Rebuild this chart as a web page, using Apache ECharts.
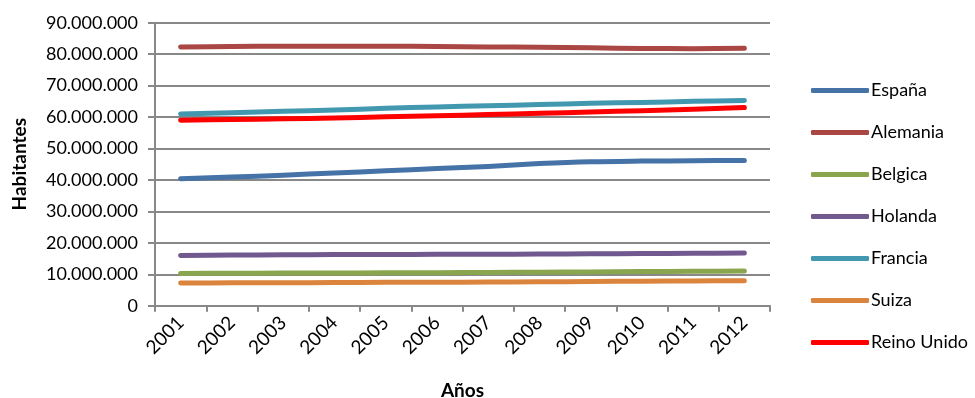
<!DOCTYPE html>
<html>
<head>
<meta charset="utf-8">
<script src="https://cdn.jsdelivr.net/npm/echarts@6/dist/echarts.min.js"></script>
<style>
  html, body { margin: 0; padding: 0; background: #fff; }
  #chart { width: 975px; height: 398px; }
</style>
</head>
<body>
<div id="chart"></div>
<script>
// Población por país, 2001-2012 (habitantes)
const years = ['2001','2002','2003','2004','2005','2006','2007','2008','2009','2010','2011','2012'];

const espana   = [40400000, 40900000, 41500000, 42200000, 42900000, 43600000, 44300000, 45200000, 45800000, 46000000, 46100000, 46200000];
const alemania = [82260000, 82440000, 82540000, 82530000, 82500000, 82440000, 82310000, 82220000, 82000000, 81800000, 81750000, 81840000];
const belgica  = [10260000, 10310000, 10360000, 10400000, 10450000, 10510000, 10580000, 10670000, 10750000, 10840000, 10950000, 11050000];
const holanda  = [15990000, 16110000, 16190000, 16260000, 16310000, 16330000, 16360000, 16410000, 16490000, 16570000, 16660000, 16730000];
const francia  = [61000000, 61400000, 61800000, 62250000, 62770000, 63230000, 63600000, 63960000, 64350000, 64660000, 64980000, 65290000];
const suiza    = [7200000, 7260000, 7310000, 7360000, 7420000, 7460000, 7510000, 7590000, 7700000, 7790000, 7870000, 7950000];
const reino    = [58990000, 59210000, 59440000, 59700000, 60060000, 60410000, 60780000, 61190000, 61600000, 62030000, 62500000, 63020000];

const yTicks = { min: 0, max: 90000000, interval: 10000000 };

const seriesDefs = [
  { name: 'España',      data: espana,   color: '#4572A7' },
  { name: 'Alemania',    data: alemania, color: '#AA4643' },
  { name: 'Belgica',     data: belgica,  color: '#89A54E' },
  { name: 'Holanda',     data: holanda,  color: '#71588F' },
  { name: 'Francia',     data: francia,  color: '#4198AF' },
  { name: 'Suiza',       data: suiza,    color: '#DB843D' },
  { name: 'Reino Unido', data: reino,    color: '#FF0000' }
];

const FONT = 'Lato, "Open Sans", sans-serif';
const GREY = '#888888';

function fmtMiles(v) {
  return String(Math.round(v)).replace(/\B(?=(\d{3})+(?!\d))/g, '.');
}

const chart = echarts.init(document.getElementById('chart'), null, { renderer: 'canvas' });

chart.setOption({
  animation: false,
  backgroundColor: '#ffffff',
  textStyle: { fontFamily: FONT },
  grid: { left: 155, right: 205, top: 22.7, bottom: 92.3, containLabel: false, outerBoundsMode: 'none' },
  legend: {
    orient: 'vertical',
    left: 806,
    top: 76,
    itemWidth: 58,
    itemHeight: 5,
    itemGap: 23,
    icon: 'roundRect',
    textStyle: { fontFamily: FONT, fontSize: 18, color: '#000', lineHeight: 19, padding: [0, 0, 0, -3] },
    data: seriesDefs.map(s => s.name)
  },
  xAxis: {
    type: 'category',
    data: years,
    boundaryGap: true,
    name: 'Años',
    nameLocation: 'middle',
    nameGap: 76,
    nameTextStyle: { fontFamily: FONT, fontSize: 19, fontWeight: 'bold', color: '#000' },
    axisLine: { lineStyle: { color: GREY, width: 2 } },
    axisTick: { show: true, alignWithLabel: false, length: 6, lineStyle: { color: GREY, width: 2 } },
    axisLabel: { rotate: 45, fontSize: 19, color: '#000', margin: 14, fontFamily: FONT },
    splitLine: { show: false }
  },
  yAxis: {
    type: 'value',
    min: yTicks.min,
    max: yTicks.max,
    interval: yTicks.interval,
    name: 'Habitantes',
    nameLocation: 'middle',
    nameGap: 126,
    nameRotate: 90,
    nameTextStyle: { fontFamily: FONT, fontSize: 19, fontWeight: 'bold', color: '#000' },
    axisLine: { show: true, lineStyle: { color: GREY, width: 2 } },
    axisTick: { show: true, length: 7, lineStyle: { color: GREY, width: 2 } },
    axisLabel: { formatter: fmtMiles, fontSize: 18, color: '#000', margin: 17, fontFamily: FONT },
    splitLine: { show: true, lineStyle: { color: GREY, width: 2 } }
  },
  series: seriesDefs.map(s => ({
    name: s.name,
    type: 'line',
    data: s.data,
    showSymbol: false,
    symbol: 'none',
    smooth: 0.3,
    color: s.color,
    lineStyle: { color: s.color, width: 5, cap: 'round', join: 'round' },
    itemStyle: { color: s.color }
  }))
});
</script>
</body>
</html>
